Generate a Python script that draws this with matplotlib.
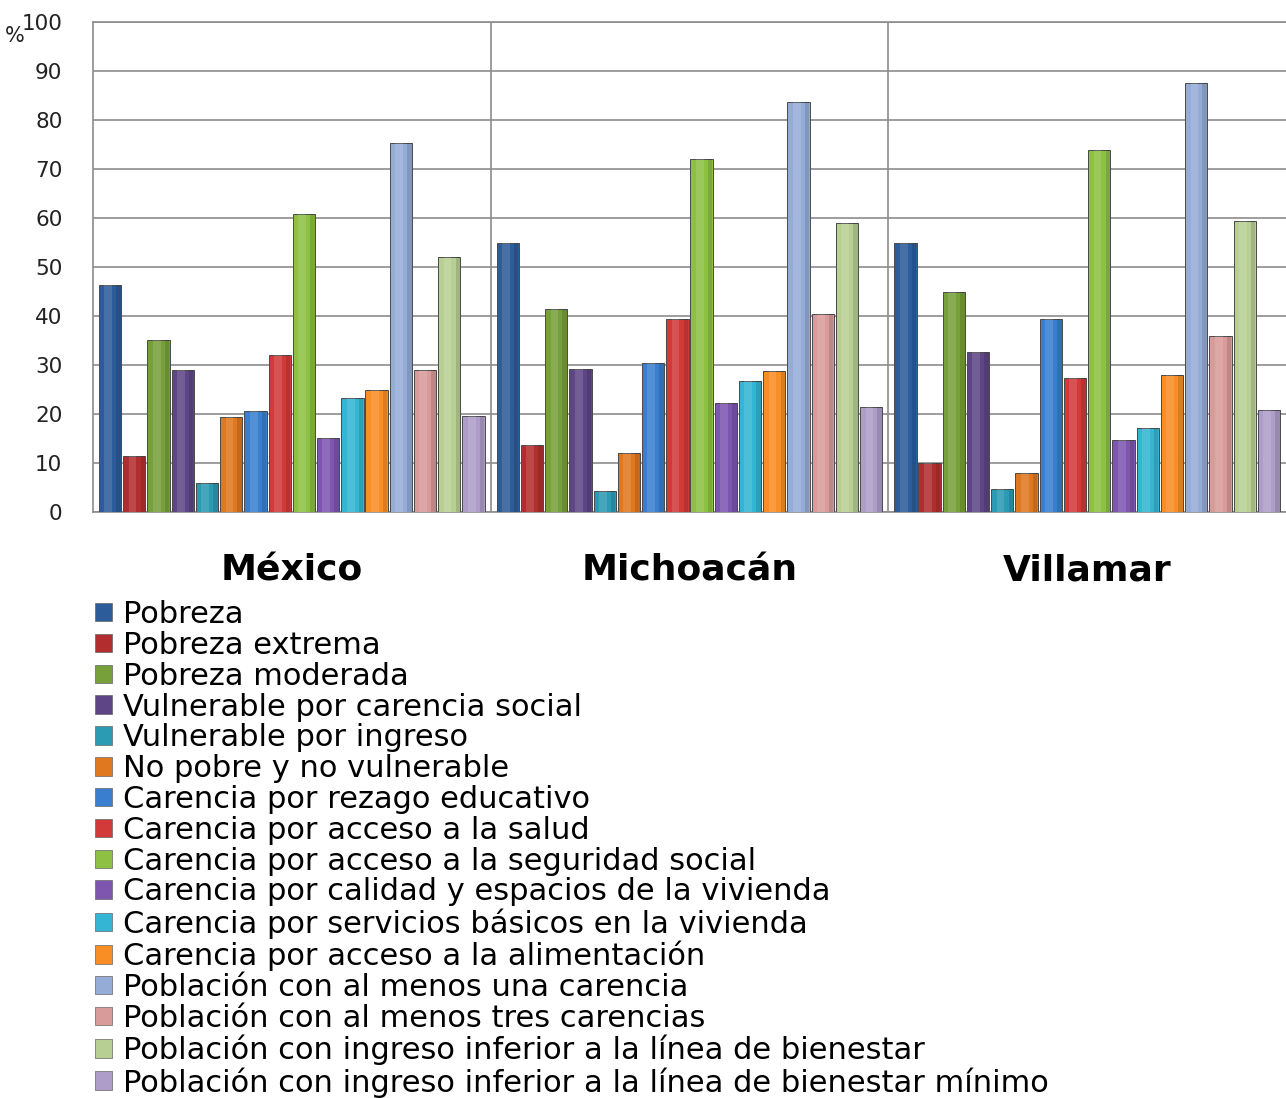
import matplotlib.pyplot as plt
from matplotlib.patches import Patch
import numpy as np

regiones = ["México", "Michoacán", "Villamar"]

indicadores = [
    "Pobreza",
    "Pobreza extrema",
    "Pobreza moderada",
    "Vulnerable por carencia social",
    "Vulnerable por ingreso",
    "No pobre y no vulnerable",
    "Carencia por rezago educativo",
    "Carencia por acceso a la salud",
    "Carencia por acceso a la seguridad social",
    "Carencia por calidad y espacios de la vivienda",
    "Carencia por servicios básicos en la vivienda",
    "Carencia por acceso a la alimentación",
    "Población con al menos una carencia",
    "Población con al menos tres carencias",
    "Población con ingreso inferior a la línea de bienestar",
    "Población con ingreso inferior a la línea de bienestar mínimo",
]

# porcentajes por indicador: [México, Michoacán, Villamar]
valores = [
    [46.3, 54.9, 54.9],
    [11.4, 13.7, 10.0],
    [35.0, 41.4, 44.9],
    [29.0, 29.2, 32.6],
    [6.0, 4.3, 4.6],
    [19.4, 12.0, 8.0],
    [20.6, 30.4, 39.4],
    [32.0, 39.4, 27.4],
    [60.8, 72.0, 73.9],
    [15.2, 22.2, 14.7],
    [23.2, 26.7, 17.1],
    [24.9, 28.8, 27.9],
    [75.3, 83.7, 87.5],
    [28.9, 40.4, 35.9],
    [52.0, 58.9, 59.4],
    [19.6, 21.5, 20.8],
]

colores = [
    "#2C5C99", "#B22E2E", "#77A03A", "#5E4585", "#2B9BB3", "#E07820",
    "#3A7FCF", "#D23A3A", "#8DC043", "#7E56B0", "#33B5D3", "#F98E25",
    "#95ADD6", "#D99A9A", "#B7CF93", "#AE9DC9",
]

fig = plt.figure(figsize=(12.86, 10.98), dpi=100)
ax = fig.add_axes([0.0723, 0.5337, 0.9277, 0.4463])

n = len(indicadores)
slot = 0.975 / n
ancho = slot * 0.92
x = np.arange(len(regiones))

for i in range(n):
    pos = x - 0.4875 + slot * (i + 0.5)
    ax.bar(pos, valores[i], width=ancho, color=colores[i],
           edgecolor="#4a4a4a", linewidth=0.7, zorder=3)
    # brillo para imitar el relieve
    ax.bar(pos - ancho * 0.08, valores[i], width=ancho * 0.35, color="white",
           alpha=0.13, linewidth=0, zorder=4)
    ax.bar(pos + ancho * 0.38, valores[i], width=ancho * 0.2, color="black",
           alpha=0.12, linewidth=0, zorder=4)

ax.set_xlim(-0.5, 2.5)
ax.set_ylim(0, 100)
ax.set_yticks(range(0, 101, 10))
ax.yaxis.grid(True, color="#8c8c8c", linewidth=1.2, zorder=0)
for sep in [0.5, 1.5]:
    ax.axvline(sep, color="#8c8c8c", linewidth=1.2, zorder=0)

ax.set_xticks(x)
ax.set_xticklabels(regiones, fontsize=26, fontweight="bold", family="DejaVu Sans")
ax.tick_params(axis="x", length=0, pad=30)
ax.tick_params(axis="y", length=0, pad=22, labelsize=15.5, labelcolor="#222222")

ax.spines["right"].set_visible(False)
for s in ["left", "bottom", "top"]:
    ax.spines[s].set_color("#8c8c8c")
    ax.spines[s].set_linewidth(1.2)

fig.text(0.004, 0.962, "%", fontsize=15, color="#222222")

handles = [Patch(facecolor=c, edgecolor="#666666", linewidth=0.5) for c in colores]
fig.legend(handles, indicadores, loc="upper left",
           bbox_to_anchor=(0.074, 1 - 600 / 1098), frameon=False,
           prop={"family": "DejaVu Sans", "size": 22},
           labelspacing=0.06, handlelength=0.55, handleheight=0.55,
           handletextpad=0.35, borderpad=0, borderaxespad=0)

fig.savefig("out.png", dpi=100)
